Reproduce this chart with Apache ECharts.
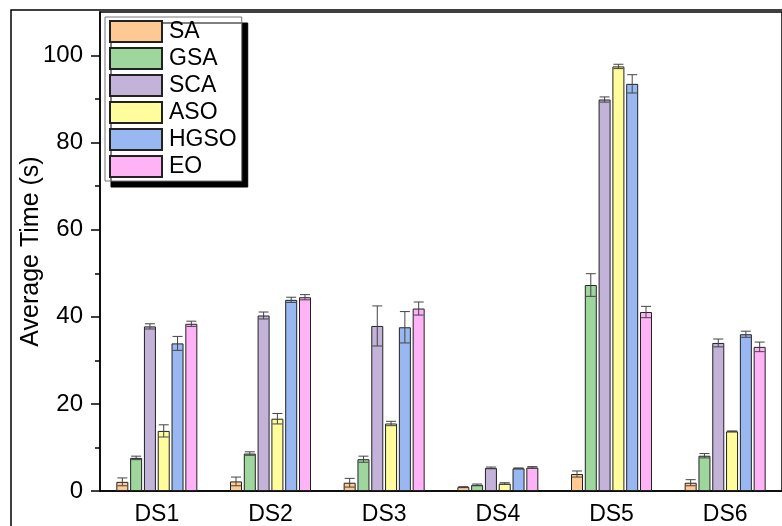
<!DOCTYPE html>
<html>
<head>
<meta charset="utf-8">
<script src="https://cdn.jsdelivr.net/npm/echarts@6/dist/echarts.min.js"></script>
<style>
  html, body { margin: 0; padding: 0; background: #fff; }
  #main { width: 782px; height: 526px; }
</style>
</head>
<body>
<div id="main"></div>
<script>
// datasets on the x axis
var categories = ['DS1', 'DS2', 'DS3', 'DS4', 'DS5', 'DS6'];

// average time (s) per algorithm
var SA   = [2.1, 2.2, 1.9, 0.9, 3.9, 1.9];
var GSA  = [7.6, 8.6, 7.3, 1.4, 47.3, 8.1];
var SCA  = [37.8, 40.3, 37.9, 5.3, 89.9, 34.0];
var ASO  = [13.8, 16.6, 15.5, 1.7, 97.5, 13.7];
var HGSO = [33.9, 43.9, 37.6, 5.2, 93.5, 36.0];
var EO   = [38.4, 44.5, 41.9, 5.4, 41.1, 33.1];

// error bar half-lengths
var SA_err   = [0.9, 1.0, 1.0, 0.1, 0.7, 0.7];
var GSA_err  = [0.4, 0.4, 0.7, 0.2, 2.6, 0.5];
var SCA_err  = [0.6, 0.8, 4.6, 0.2, 0.6, 0.9];
var ASO_err  = [1.4, 1.2, 0.5, 0.2, 0.5, 0.1];
var HGSO_err = [1.6, 0.6, 3.6, 0.1, 2.1, 0.7];
var EO_err   = [0.6, 0.6, 1.5, 0.2, 1.3, 1.1];

var majorTicks = [0, 20, 40, 60, 80, 100];
var minorTicks = [10, 30, 50, 70, 90];

var names  = ['SA', 'GSA', 'SCA', 'ASO', 'HGSO', 'EO'];
var values = [SA, GSA, SCA, ASO, HGSO, EO];
var errs   = [SA_err, GSA_err, SCA_err, ASO_err, HGSO_err, EO_err];
var colors = ['#FFC994', '#9ED69E', '#C3B3D9', '#FFFC9C', '#99B8F2', '#FFB3F7'];

var FONT = 'Liberation Sans';
var barW = 12;
var gapPx = 1.8;

var chart = echarts.init(document.getElementById('main'));

var series = [];
names.forEach(function (n, i) {
  series.push({
    name: n,
    type: 'bar',
    data: values[i],
    barWidth: barW,
    barGap: (gapPx / barW * 100) + '%',
    itemStyle: { color: colors[i], borderColor: '#222', borderWidth: 1 },
    z: 2
  });
});

// error bars, one custom series per algorithm
names.forEach(function (n, i) {
  var d = values[i].map(function (v, k) { return [k, v - errs[i][k], v + errs[i][k]]; });
  series.push({
    type: 'custom',
    name: n + '_err',
    data: d,
    z: 5,
    silent: true,
    renderItem: function (params, api) {
      var off = (i - 2.5) * (barW + gapPx);
      var lo = api.coord([api.value(0), api.value(1)]);
      var hi = api.coord([api.value(0), api.value(2)]);
      var x = lo[0] + off;
      var cap = 5;
      var st = { stroke: '#444', lineWidth: 1 };
      return {
        type: 'group',
        children: [
          { type: 'line', shape: { x1: x, y1: lo[1], x2: x, y2: hi[1] }, style: st },
          { type: 'line', shape: { x1: x - cap, y1: hi[1], x2: x + cap, y2: hi[1] }, style: st },
          { type: 'line', shape: { x1: x - cap, y1: lo[1], x2: x + cap, y2: lo[1] }, style: st }
        ]
      };
    }
  });
});

chart.setOption({
  animation: false,
  backgroundColor: '#fff',
  textStyle: { fontFamily: FONT },
  graphic: [{
    type: 'rect',
    shape: { x: 11, y: 10, width: 900, height: 700 },
    style: { fill: 'none', stroke: '#000', lineWidth: 1.5 },
    z: 100
  }],
  grid: {
    left: 100, top: 12, width: 690, height: 484,
    show: true, borderColor: '#000', borderWidth: 1.5, backgroundColor: 'transparent'
  },
  legend: {
    data: names,
    orient: 'vertical',
    left: 105,
    top: 17,
    itemWidth: 52,
    itemHeight: 21,
    itemGap: 4,
    padding: [3, 5, 3, 4],
    backgroundColor: '#fff',
    borderColor: '#777',
    borderWidth: 1,
    shadowColor: '#000',
    shadowBlur: 0,
    shadowOffsetX: 6,
    shadowOffsetY: 6,
    icon: 'rect',
    textStyle: { fontFamily: FONT, fontSize: 23, lineHeight: 21, color: '#000', padding: [0, 0, 0, 2] }
  },
  xAxis: {
    type: 'category',
    data: categories,
    axisLine: { lineStyle: { color: '#000', width: 1.5 } },
    axisTick: { alignWithLabel: true, length: 10, lineStyle: { color: '#000', width: 1.5 } },
    axisLabel: { fontFamily: FONT, fontSize: 23, color: '#000', margin: 12 },
    splitLine: { show: false }
  },
  yAxis: [{
    type: 'value',
    min: 0,
    max: 110,
    interval: 10,
    name: 'Average Time (s)',
    nameLocation: 'middle',
    nameGap: 56,
    nameMoveOverlap: false,
    nameTextStyle: { fontFamily: FONT, fontSize: 25, color: '#000' },
    axisLine: { show: true, lineStyle: { color: '#000', width: 1.5 } },
    axisTick: { show: true, length: 9, customValues: majorTicks, lineStyle: { color: '#000', width: 1.5 } },
    axisLabel: { fontFamily: FONT, fontSize: 24, color: '#000', margin: 17, customValues: majorTicks },
    splitLine: { show: false }
  }, {
    type: 'value',
    min: 0,
    max: 110,
    interval: 10,
    position: 'left',
    axisLine: { show: false },
    axisTick: { show: true, length: 5, customValues: minorTicks, lineStyle: { color: '#000', width: 1.5 } },
    axisLabel: { show: false },
    splitLine: { show: false }
  }],
  series: series
});
</script>
</body>
</html>
